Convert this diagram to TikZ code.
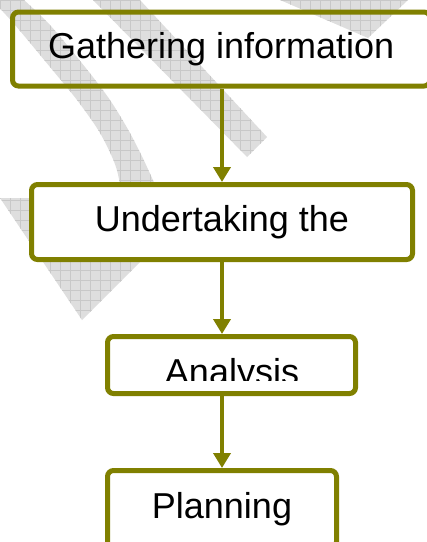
\documentclass[tikz,border=0pt]{standalone}
\usepackage{fontspec}
\setmainfont{Liberation Sans}
\usepackage{tikz}
\usetikzlibrary{arrows.meta}

\definecolor{stageline}{RGB}{128,128,0}
\definecolor{wmfill}{RGB}{222,222,222}
\definecolor{wmgrid}{RGB}{200,200,200}

\newcommand{\wmbands}{%
  plot[smooth] coordinates {(-8,0) (15,25) (50,67) (77,100) (100,133) (116,167) (122,200) (124,240)}
  -- plot[smooth] coordinates {(162,240) (160,200) (147,167) (130,133) (110,100) (85,67) (50,25) (24,0)} -- cycle
  (93,0) -- (140,0) -- (267,137) -- (247,157) -- cycle
  (280,0) -- (408,0) -- (368,38) -- cycle
  (0,198) -- (82,320) -- (150,252) -- (40,198) -- cycle}

\begin{document}
\begin{tikzpicture}[x=1pt,y=-1pt,
  stage/.style={draw=stageline, line width=5pt, rounded corners=6pt, fill=white,
    font=\fontsize{36}{43}\selectfont, text height=26pt, text depth=8pt, inner sep=0pt},
  flow/.style={draw=stageline, line width=4pt, -{Triangle[width=17pt,length=15pt]}}]
\useasboundingbox (0,0) rectangle (427,542);
\clip (0,0) rectangle (427,542);

% watermark
\fill[wmfill] \wmbands;
\begin{scope}
\clip \wmbands;
\draw[wmgrid, line width=0.6pt, step=10pt] (-10,340) grid (430,-10);
\end{scope}

\node[stage, fill=none, minimum width=417.5pt, minimum height=74pt] (gather) at (221.25,49) {Gathering information};
\node[stage, minimum width=381pt, minimum height=75pt] (undertake) at (222,222) {Undertaking the};
\node[stage, minimum width=248pt, minimum height=57pt] (analysis) at (231.5,365) {};
\node[stage, minimum width=229pt, minimum height=77pt] (planning) at (222,509) {Planning};

% text runs past the box
\begin{scope}
\clip (100,340) rectangle (360,380);
\node[font=\fontsize{36}{43}\selectfont, anchor=base, inner sep=0pt] (analysistext) at (232,384) {Analysis};
\end{scope}

\draw[flow] (gather.south -| undertake.north) -- (undertake.north);
\draw[flow] (undertake.south) -- (undertake.south |- analysis.north);
\draw[flow] (planning.north |- analysis.south) -- (planning.north);
\end{tikzpicture}
\end{document}
